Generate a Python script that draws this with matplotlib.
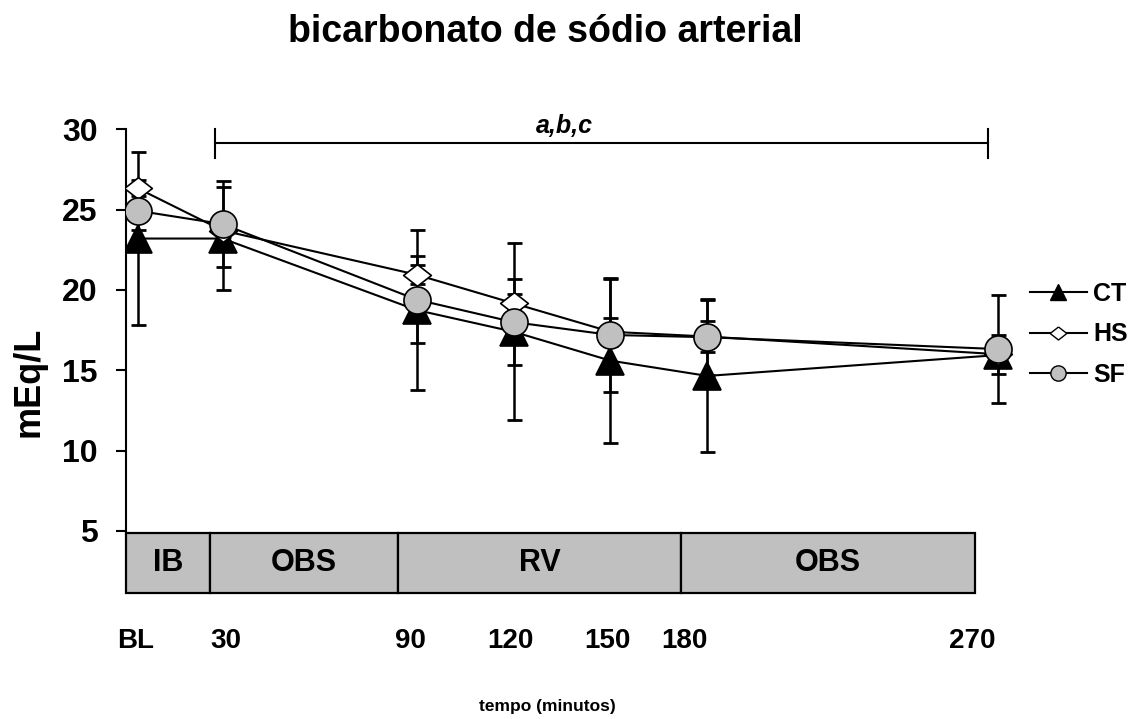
import matplotlib
matplotlib.use("Agg")
import matplotlib.pyplot as plt
from matplotlib.lines import Line2D
from matplotlib.patches import Rectangle

plt.rcParams['font.family'] = ['Liberation Sans', 'DejaVu Sans']
plt.rcParams['font.weight'] = 'bold'

# ---------------- data ----------------
time_labels = ["BL", "30", "90", "120", "150", "180", "270"]
time_pos = [3.7, 30, 90, 120, 150, 180, 270]      # plotting position (minutes)
label_pos = [3, 31, 88, 119, 149, 173, 262]       # tick label positions

ct_mean = [23.2, 23.2, 18.75, 17.4, 15.6, 14.65, 15.95]
ct_sd = [5.4, 3.2, 4.97, 5.5, 5.1, 4.75, 0.4]
hs_mean = [26.33, 23.7, 20.95, 19.17, 17.4, 17.1, 16.0]
hs_sd = [0.5, 0.4, 0.6, 0.55, 0.88, 0.95, 1.2]
sf_mean = [24.93, 24.1, 19.4, 18.0, 17.2, 17.06, 16.32]
sf_sd = [1.2, 2.7, 2.72, 2.7, 3.53, 2.38, 3.35]

series_names = ["CT", "HS", "SF"]

phase_names = ["IB", "OBS", "RV", "OBS"]
phase_edges = [0, 26.1, 84.4, 171.7, 262.8]

bracket_span = [27.6, 266.8]
bracket_label = "a,b,c"

# ---------------- figure ----------------
fig = plt.figure(figsize=(11.29, 7.19), dpi=100)
ax = fig.add_axes([0.1113, 0.2615, 0.8016, 0.5587])

diamond = [(0, 0.78), (1, 0), (0, -0.78), (-1, 0), (0, 0.78)]
styles = [
    dict(marker='^', mfc='black', ms=20.5, z=3),
    dict(marker=diamond, mfc='white', ms=20, z=4),
    dict(marker='o', mfc='#c0c0c0', ms=19.5, z=5),
]

for mean, sd in zip([ct_mean, hs_mean, sf_mean], [ct_sd, hs_sd, sf_sd]):
    ax.errorbar(time_pos, mean, yerr=sd, fmt='none', ecolor='black',
                elinewidth=1.8, capsize=5.4, capthick=2.0, zorder=1.5)
for mean, st in zip([ct_mean, hs_mean, sf_mean], styles):
    ax.plot(time_pos, mean, color='black', lw=1.5, marker=st['marker'],
            ms=st['ms'], mfc=st['mfc'], mec='black', mew=1.2, zorder=st['z'])

ax.set_xlim(0, 280)
ax.set_ylim(5, 30)
ax.set_yticks([5, 10, 15, 20, 25, 30])
ax.tick_params(axis='y', direction='out', length=7.2, width=1.5, pad=13,
               labelsize=23)
for lab in ax.get_yticklabels():
    lab.set_fontweight('bold')
ax.set_xticks(label_pos)
ax.set_xticklabels(time_labels, fontsize=20, fontweight='bold')
ax.tick_params(axis='x', length=0, pad=70)
for s in ['top', 'right', 'bottom']:
    ax.spines[s].set_visible(False)
ax.spines['left'].set_linewidth(1.5)

# phase boxes
y_top, y_bot = 4.876, 1.16
for i, name in enumerate(phase_names):
    x0, x1 = phase_edges[i], phase_edges[i + 1]
    ax.add_patch(Rectangle((x0, y_bot), x1 - x0, y_top - y_bot,
                           facecolor='#c0c0c0', edgecolor='black', lw=1.6,
                           clip_on=False, zorder=2))
    ax.text((x0 + x1) / 2, (y_top + y_bot) / 2, name, ha='center',
            va='center', fontsize=22, fontweight='bold', zorder=3)

# significance bracket
yb = 29.13
ax.plot(bracket_span, [yb, yb], color='black', lw=1.5, clip_on=False)
for xb in bracket_span:
    ax.plot([xb, xb], [28.2, 30.0], color='black', lw=1.5, clip_on=False)
ax.text(135.6, 29.75, bracket_label, ha='center', va='baseline', fontsize=18,
        fontweight='bold', style='italic')

# legend
handles = [
    Line2D([], [], color='black', lw=1.5, marker='^', ms=12, mfc='black', mec='black'),
    Line2D([], [], color='black', lw=1.5, marker=diamond, ms=12, mfc='white', mec='black'),
    Line2D([], [], color='black', lw=1.5, marker='o', ms=11, mfc='#c0c0c0', mec='black'),
]
fig.legend(handles, series_names, loc='upper left',
           bbox_to_anchor=(0.9123, 0.608), frameon=False,
           handlelength=2.28, handletextpad=0.25, labelspacing=0.66,
           borderpad=0, borderaxespad=0, prop={'weight': 'bold', 'size': 18})

fig.text(0.483, 0.956, "bicarbonato de sódio arterial", ha='center',
         va='center', fontsize=27, fontweight='bold')
fig.text(0.4845, 1 - 706 / 719, "tempo (minutos)", ha='center', va='center',
         fontsize=12.5, fontweight='bold')
fig.text(0.0257, 1 - 382 / 719, "mEq/L", ha='center', va='center',
         rotation=90, fontsize=26, fontweight='bold')

fig.savefig("out.png", dpi=100)
